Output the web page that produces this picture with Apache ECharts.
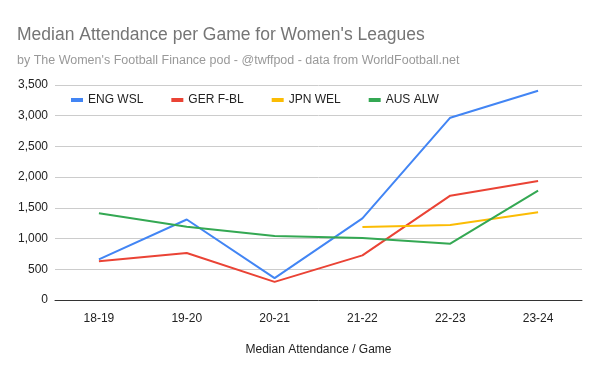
<!DOCTYPE html>
<html lang="en">
<head>
    <meta charset="UTF-8">
    <title>Median Attendance</title>
    <style>
        * {
            margin: 0;
            padding: 0;
        }

        .main {
            width: 600px;
            height: 371px;
        }
    </style>
</head>
<body>
<div id="main" class="main"></div>
<script src="https://cdn.jsdelivr.net/npm/echarts@6/dist/echarts.min.js"></script>
<script>
    var seasons = ['18-19', '19-20', '20-21', '21-22', '22-23', '23-24'];
    var engWsl = [660, 1310, 355, 1330, 2968, 3407];
    var gerFbl = [630, 765, 295, 727, 1698, 1937];
    var jpnWel = [null, null, null, 1190, 1222, 1428];
    var ausAlw = [1411, 1194, 1042, 1010, 917, 1780];

    var font = 'Liberation Sans';
    var myChart = echarts.init(document.getElementById('main'), null, {renderer: 'canvas'});

    function line(name, data, color) {
        return {
            name: name,
            type: 'line',
            data: data,
            symbol: 'none',
            lineStyle: {width: 2, color: color},
            itemStyle: {color: color}
        };
    }

    myChart.setOption({
        animation: false,
        title: {
            text: "Median Attendance per Game for Women's Leagues",
            subtext: 'by The Women\'s Football Finance pod - @twffpod - data from WorldFootball.net',
            left: 12,
            top: 21,
            itemGap: 10,
            textStyle: {fontFamily: font, fontSize: 17.5, fontWeight: 'normal', color: '#757575'},
            subtextStyle: {fontFamily: font, fontSize: 12.5, color: '#999999'}
        },
        legend: {
            left: 66,
            top: 89,
            itemWidth: 12,
            itemHeight: 4,
            itemGap: 28,
            icon: 'rect',
            textStyle: {fontFamily: font, fontSize: 12, color: '#222'},
            data: ['ENG WSL', 'GER F-BL', 'JPN WEL', 'AUS ALW']
        },
        grid: {
            left: 55,
            right: 18,
            top: 85,
            bottom: 71
        },
        xAxis: {
            type: 'category',
            data: seasons,
            name: 'Median Attendance / Game',
            nameLocation: 'middle',
            nameGap: 44,
            nameTextStyle: {fontFamily: font, fontSize: 12, color: '#222'},
            axisTick: {show: false},
            axisLine: {lineStyle: {color: '#333', width: 1}},
            axisLabel: {fontFamily: font, fontSize: 12, color: '#222', margin: 13}
        },
        yAxis: {
            type: 'value',
            min: 0,
            max: 3500,
            interval: 500,
            axisLabel: {
                fontFamily: font, fontSize: 12, color: '#222', margin: 7,
                formatter: function (v) { return v.toLocaleString('en-US'); }
            },
            splitLine: {lineStyle: {color: '#cccccc'}}
        },
        series: [
            line('ENG WSL', engWsl, '#4285F4'),
            line('GER F-BL', gerFbl, '#EA4335'),
            line('JPN WEL', jpnWel, '#FBBC04'),
            line('AUS ALW', ausAlw, '#34A853')
        ]
    });
</script>
</body>
</html>
